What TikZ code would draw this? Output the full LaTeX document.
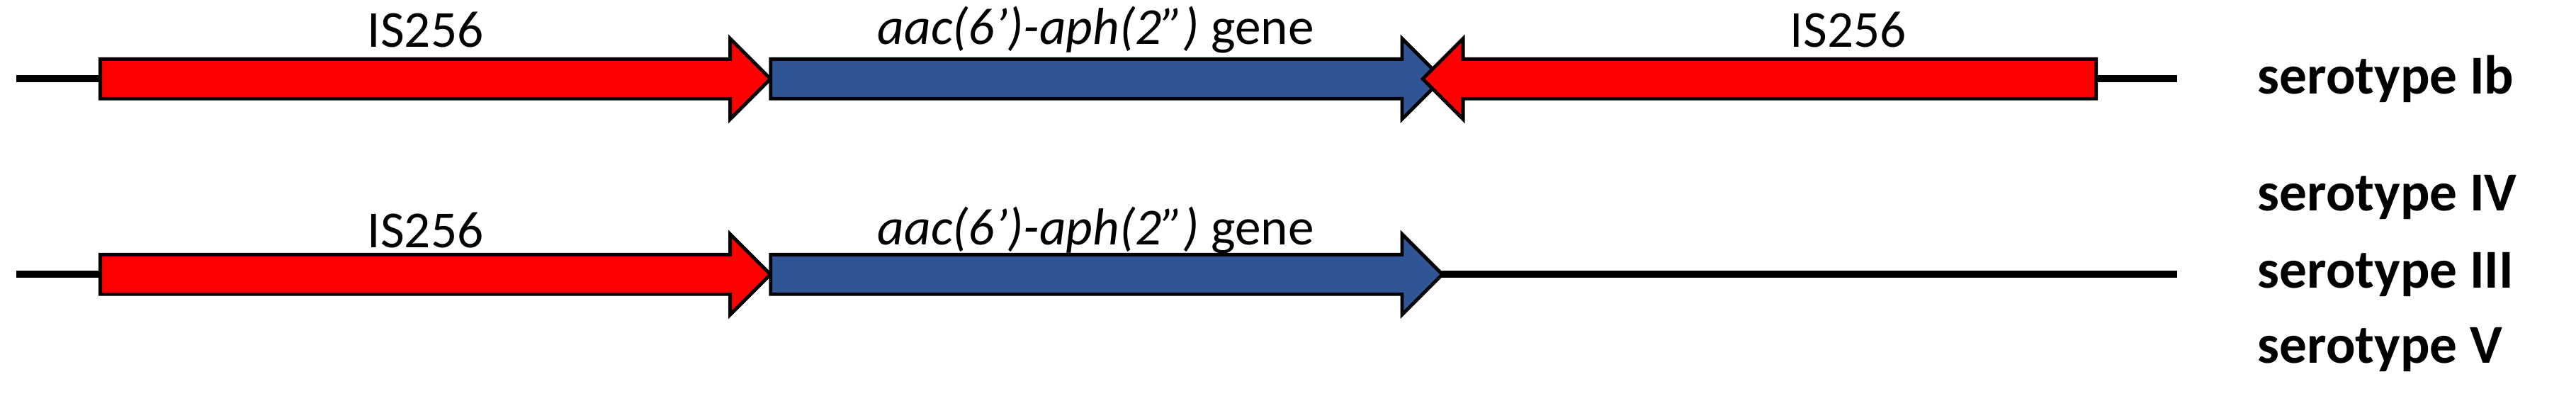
\documentclass[tikz,border=0pt]{standalone}
\usepackage{fontspec}
\setmainfont{Carlito}
\usetikzlibrary{shapes.arrows}
\definecolor{isred}{HTML}{FF0000}
\definecolor{geneblue}{HTML}{2F5597}
\begin{document}
\begin{tikzpicture}[x=0.02cm,y=-0.02cm,
   gene/.style={single arrow,draw=black,line width=1.2pt,inner sep=0pt,
    minimum width=0.94cm,single arrow head extend=0.25cm,anchor=center},
   lbl/.style={font=\fontsize{18}{20}\selectfont},
   sero/.style={font=\fontsize{19}{22}\selectfont\bfseries,anchor=west}
    ]
  \useasboundingbox (0,0) rectangle (1568,244);

  % -- row one
  \coordinate (l1a) at (10,48);
  \coordinate (l1b) at (1325,48);
  \draw[line width=2.4pt] (l1a) -- (l1b);
  \node[gene,fill=isred,minimum height=8.16cm] at (259,48) (is1) {\rule{0pt}{0.44cm}};
  \node[gene,fill=geneblue,minimum height=8.18cm] at (667.5,48) (aac1) {\rule{0pt}{0.44cm}};
  \node[gene,fill=isred,minimum height=8.2cm,shape border rotate=180] at (1077,48) (is2) {\rule{0pt}{0.44cm}};
  \node[lbl] at (259,18) (t1) {IS256};
  \node[lbl] at (667,18) (t2) {\textit{aac(6')-aph(2'')} gene};
  \node[lbl] at (1125,18) (t3) {IS256};

  % -- row two
  \coordinate (l2a) at (10,167);
  \coordinate (l2b) at (1325,167);
  \draw[line width=2.4pt] (l2a) -- (l2b);
  \node[gene,fill=isred,minimum height=8.16cm] at (259,167) (is3) {\rule{0pt}{0.44cm}};
  \node[gene,fill=geneblue,minimum height=8.18cm] at (667.5,167) (aac2) {\rule{0pt}{0.44cm}};
  \node[lbl] at (259,140) (t4) {IS256};
  \node[lbl] at (667,140) (t5) {\textit{aac(6')-aph(2'')} gene};

  % -- serotypes
  \node[sero] at (1368,48) (ib) {serotype Ib};
  \node[sero] at (1368,120) (iv) {serotype IV};
  \node[sero] at (1368,167) (iii) {serotype III};
  \node[sero] at (1368,213) (v) {serotype V};
\end{tikzpicture}
\end{document}
